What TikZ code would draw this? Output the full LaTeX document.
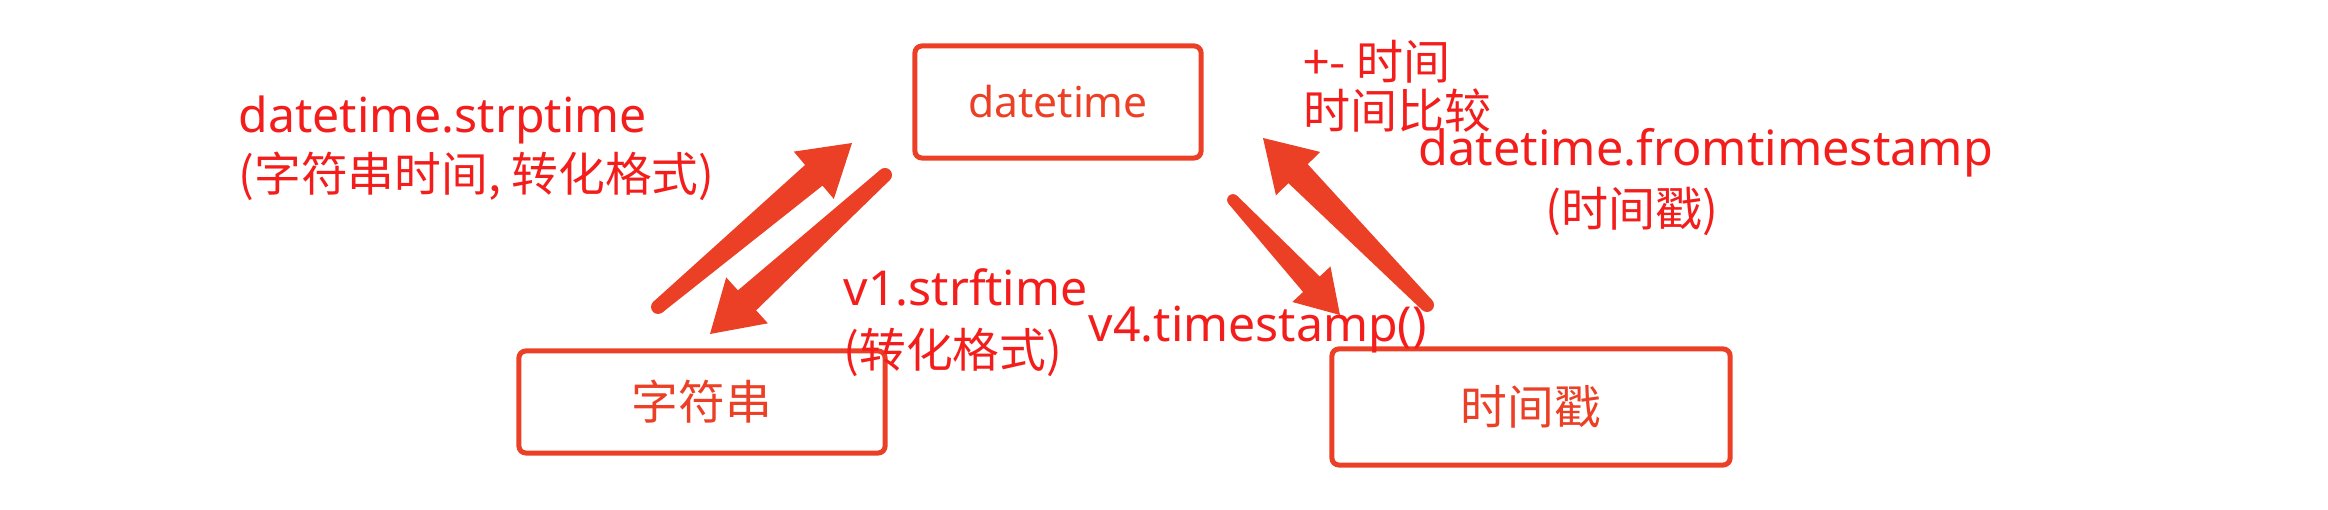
\documentclass[tikz,border=0pt]{standalone}
\usepackage{fontspec}
\usepackage{tikz}
\usetikzlibrary{calc}
\setmainfont{Noto Sans}
\newfontfamily\cjk{Noto Sans CJK SC}[Scale=0.97]
\definecolor{boxred}{RGB}{236, 64, 38}
\definecolor{labelred}{RGB}{243, 30, 28}

% tapered arrow: tail coordinate, tip coordinate, head length
\newcommand\taperarrow[3]{%
  \pgfmathsetlengthmacro\arrlen{#3}%
  \pgfmathsetlengthmacro\arrhead{0.62*#3}%
  \pgfmathsetlengthmacro\arrshaft{0.27*#3}%
  \pgfmathsetlengthmacro\arrtail{0.14*#3}%
  \coordinate (headbase) at ($(#2)!\arrlen!(#1)$);
  \fill[boxred] ($(#1)!\arrtail!90:(#2)$) -- ($(headbase)!\arrshaft!90:(#2)$)
    -- ($(headbase)!\arrhead!90:(#2)$) -- (#2) -- ($(headbase)!\arrhead!-90:(#2)$)
    -- ($(headbase)!\arrshaft!-90:(#2)$) -- ($(#1)!\arrtail!-90:(#2)$) -- cycle;
  \fill[boxred] (#1) circle[radius=\arrtail];
}

\begin{document}
\begin{tikzpicture}[x=0.01cm, y=-0.01cm,
    convbox/.style={draw=boxred, line width=0.05cm, rounded corners=0.07cm, text=boxred, inner sep=0pt},
    convlabel/.style={text=labelred, anchor=base west, inner sep=0pt, align=left}]
\useasboundingbox (0,0) rectangle (2328,510);

% the three forms of a time
\node[convbox, minimum width=2.86cm, minimum height=1.12cm, font=\fontsize{12.1pt}{14pt}\selectfont] (dt) at (1058,102) {datetime};
\node[convbox, minimum width=3.66cm, minimum height=1.02cm, font=\cjk\fontsize{13.7pt}{16pt}\selectfont] (str) at (702,402) {字符串};
\node[convbox, minimum width=3.98cm, minimum height=1.16cm, font=\cjk\fontsize{13.7pt}{16pt}\selectfont] (ts) at (1531,407) {时间戳};

% string <-> datetime
\coordinate (strpfrom) at (658,307);
\coordinate (strpto) at (852,143);
\coordinate (strffrom) at (885,175);
\coordinate (strfto) at (710,334);
\taperarrow{strpfrom}{strpto}{0.5cm}
\taperarrow{strffrom}{strfto}{0.5cm}

% datetime <-> timestamp
\coordinate (tsfrom) at (1233,200);
\coordinate (tsto) at (1340,315);
\coordinate (fromtsfrom) at (1427,305);
\coordinate (fromtsto) at (1263,138);
\taperarrow{tsfrom}{tsto}{0.42cm}
\taperarrow{fromtsfrom}{fromtsto}{0.5cm}

% labels (base = last line)
\node[convlabel, font=\fontsize{13.7pt}{16.8pt}\selectfont] (strplbl) at (238,192)
  {datetime.strptime\\{\cjk (字符串时间, 转化格式)}};
\node[convlabel, font=\fontsize{13.7pt}{17.9pt}\selectfont] (strflbl) at (843,368)
  {v1.strftime\\{\cjk (转化格式)}};
\node[convlabel, font=\fontsize{13.7pt}{16pt}\selectfont] (tslbl) at (1088,342) {v4.timestamp()};
\node[convlabel, font=\cjk\fontsize{13.8pt}{14pt}\selectfont] (difflbl) at (1303,129)
  {+- 时间\\时间比较};
\node[convlabel, font=\fontsize{13.8pt}{17.6pt}\selectfont] (fromtslbl) at (1418,227)
  {datetime.fromtimestamp\\\hspace*{1.27cm}{\cjk (时间戳)}};
\end{tikzpicture}
\end{document}
